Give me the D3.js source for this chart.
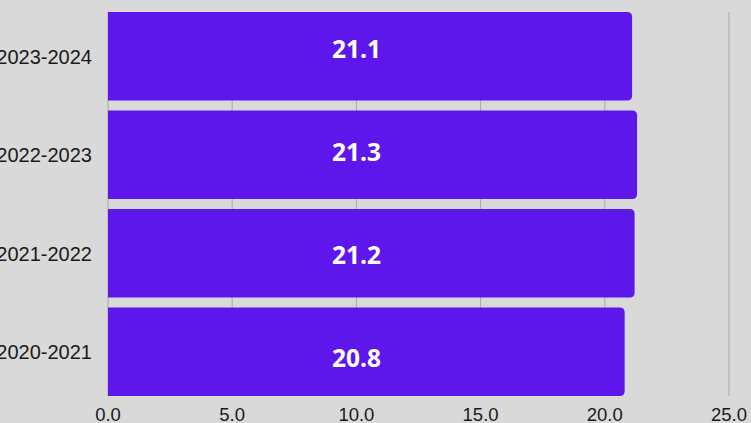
<!DOCTYPE html>
<html><head><meta charset="utf-8">
<script src="https://cdn.jsdelivr.net/npm/d3@7"></script>
<style>html,body{margin:0;padding:0;background:#d9d9d9;overflow:hidden}</style>
</head><body>
<svg id="c" width="751" height="423"></svg>
<script>
const categories = ["2023-2024", "2022-2023", "2021-2022", "2020-2021"];
const values = [21.1, 21.3, 21.2, 20.8];
const xTicks = [0, 5, 10, 15, 20, 25];

const svg = d3.select("#c");
svg.append("rect").attr("width", 751).attr("height", 423).attr("fill", "#d9d9d9");
const x = d3.scaleLinear().domain([0, 25]).range([108, 729]);
const y = d3.scaleBand().domain(categories).range([12, 396]).paddingInner(0.1).paddingOuter(0);
const yLabel = d3.scalePoint().domain(categories).range([48.5, 357.5]);

// grid
svg.append("g").selectAll("line").data(xTicks).join("line")
  .attr("x1", d => x(d)).attr("x2", d => x(d))
  .attr("y1", 12).attr("y2", 396)
  .attr("stroke", "#a8a8a8").attr("stroke-width", 1);

// bars with right rounded corners
const r = 5;
svg.append("g").selectAll("path").data(values).join("path")
  .attr("fill", "#5e17eb")
  .attr("d", (d, i) => {
    const x0 = x(0), x1 = x(d), y0 = y(categories[i]), h = y.bandwidth();
    return `M${x0},${y0}H${x1 - r}Q${x1},${y0} ${x1},${y0 + r}V${y0 + h - r}Q${x1},${y0 + h} ${x1 - r},${y0 + h}H${x0}Z`;
  });

// value labels
svg.append("g").selectAll("text").data(values).join("text")
  .attr("x", x(10))
  .attr("y", (d, i) => yLabel(categories[i]) + 9)
  .attr("text-anchor", "middle")
  .attr("font-family", "Open Sans")
  .attr("font-weight", "bold")
  .attr("font-size", 24.5)
  .attr("fill", "#ffffff")
  .text(d => d.toFixed(1));

// category labels
svg.append("g").selectAll("text").data(categories).join("text")
  .attr("x", 92)
  .attr("y", d => y(d) + y.bandwidth() / 2 + 7.5)
  .attr("text-anchor", "end")
  .attr("font-family", "Liberation Sans, Arial")
  .attr("font-size", 20)
  .attr("fill", "#1a1a1a")
  .text(d => d);

// x tick labels
svg.append("g").selectAll("text").data(xTicks).join("text")
  .attr("x", d => x(d))
  .attr("y", 420.5)
  .attr("text-anchor", "middle")
  .attr("font-family", "Liberation Sans, Arial")
  .attr("font-size", 18.5)
  .attr("fill", "#1a1a1a")
  .text(d => d.toFixed(1));
</script>
</body></html>
